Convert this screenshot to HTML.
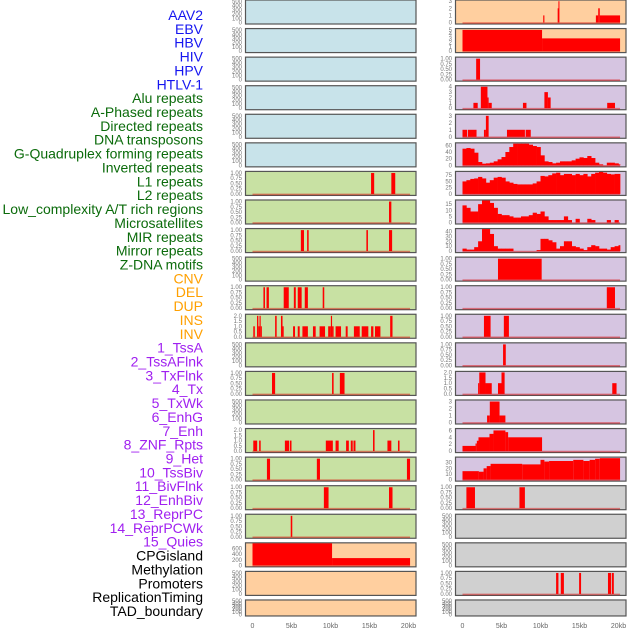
<!DOCTYPE html>
<html><head><meta charset="utf-8"><style>
html,body{margin:0;padding:0;background:#fff;}
svg{display:block;font-family:"Liberation Sans",sans-serif;}
</style></head><body>
<svg id="chart" width="630" height="630" viewBox="0 0 630 630"></svg>
<script>
const trackLabels = ["AAV2","EBV","HBV","HIV","HPV","HTLV-1","Alu repeats","A-Phased repeats","Directed repeats","DNA transposons","G-Quadruplex forming repeats","Inverted repeats","L1 repeats","L2 repeats","Low_complexity A/T rich regions","Microsatellites","MIR repeats","Mirror repeats","Z-DNA motifs","CNV","DEL","DUP","INS","INV","1_TssA","2_TssAFlnk","3_TxFlnk","4_Tx","5_TxWk","6_EnhG","7_Enh","8_ZNF_Rpts","9_Het","10_TssBiv","11_BivFlnk","12_EnhBiv","13_ReprPC","14_ReprPCWk","15_Quies","CPGisland","Methylation","Promoters","ReplicationTiming","TAD_boundary"];
const labelGroups = [6,13,5,15,5];
const groupColors = ["#1515f0","#0b6b0b","#ffa000","#a020f0","#000000"];
const xTickLabels = ["0","5kb","10kb","15kb","20kb"];
const xTickValues = [0,5,10,15,20];

// bar segments: [startKb, endKb, value]
const leftL1Bars = [[15.2,15.6,1],[17.8,18.3,1]];
const leftL2Bars = [[17.5,17.8,1]];
const leftLowCompBars = [[6.2,6.6,1],[7.0,7.2,1],[14.6,14.8,1],[17.5,17.9,1]];
const leftDelBars = [[1.4,1.6,1],[1.8,2.1,1],[4.0,4.65,1],[5.3,5.55,1],[5.8,6.3,1],[6.7,7.1,1],[9.0,9.2,1]];
const leftInsBars = [[0.1,0.3,1],[0.58,0.75,2],[0.75,0.9,1],[0.9,1.05,2],[1.05,1.2,1],[2.9,3.1,2],[3.65,3.85,2],[3.85,4.0,1],[5.2,5.45,1],[5.8,6.05,1],[6.4,7.1,1],[7.75,8.1,1],[8.6,9.3,1],[9.7,10.05,1],[10.05,10.2,2],[10.2,10.4,1],[10.65,11.35,1],[11.95,12.2,1],[13.0,13.75,1],[14.0,14.85,1],[15.2,15.5,1],[15.7,16.4,1],[17.65,17.95,2]];
const leftTssAFlnkBars = [[2.5,2.9,1],[10.2,10.4,1],[11.2,11.8,1]];
const leftTxWkBars = [[0.1,0.6,1],[0.85,1.05,1],[4.15,4.7,1],[4.8,5.0,1],[9.4,10.3,1],[10.65,11.05,1],[12.0,12.35,1],[12.6,12.85,1],[12.95,13.2,1],[15.45,15.65,2],[17.3,17.8,1],[18.65,18.85,1]];
const leftEnhBars = [[1.85,2.25,1],[8.25,8.65,1],[19.8,20.2,1]];
const leftZnfBars = [[9.15,9.75,1],[17.5,17.95,1]];
const leftHetBars = [[4.9,5.1,1]];
const leftCpgBars = [[0,10.2,790],[10.2,20.2,260]];

const rightInsBars = [[10.35,10.5,1],[12.2,12.3,2],[12.3,12.4,3],[17.1,17.4,1],[17.4,17.6,2],[17.6,20.2,1]];
const rightInvBars = [[0,10.2,5],[10.2,20.2,3]];
const rightTssABars = [[1.75,2.25,1]];
const rightTssAFlnkBars = [[1.4,1.95,1],[2.35,3.2,4],[3.2,3.35,2],[3.35,3.75,1],[7.75,8.2,1],[10.5,10.95,3],[10.95,11.3,2],[18.55,19.55,1]];
const rightTxFlnkBars = [[0,0.6,1],[0.7,1.8,1],[2.75,3.0,1],[3.0,3.35,3],[5.7,8.0,1],[8.1,8.75,1]];
const rightEnhGBars = [[4.55,10.15,1]];
const rightEnhBars = [[18.5,19.55,1]];
const rightZnfBars = [[2.75,3.6,1],[5.3,5.95,1]];
const rightHetBars = [[5.2,5.55,1]];
const rightTssBivBars = [[2.0,2.15,1],[2.15,2.95,2],[2.95,3.75,1],[4.55,5.0,1],[5.0,5.4,2],[19.2,19.75,1]];
const rightBivFlnkBars = [[3.15,3.5,1],[3.5,4.75,3],[4.75,5.5,1]];
const rightEnhBivBars = [[0,1.67,1.5],[1.67,1.84,2.2],[1.84,2.05,3],[2.05,3.46,4],[3.46,3.97,5],[3.97,5.5,6],[5.5,5.85,5.5],[5.85,10.2,4]];
const rightReprPCBars = [[0,2.1,15],[2.1,2.7,14],[2.7,3.1,20],[3.1,3.6,24],[3.6,7.65,28],[7.65,10.0,27],[10.0,10.5,35],[10.5,11.1,32],[11.1,14.2,33],[14.2,15.5,35],[15.5,16.3,33],[16.3,17.0,35],[17.0,17.6,37],[17.6,20.2,38]];
const rightQuiesBars = [[0.5,1.6,1],[7.3,8.0,1]];
const rightPromoterBars = [[12.0,12.3,1],[12.6,13.0,1],[14.95,15.2,1],[18.65,19.05,1],[19.15,19.4,1]];

// area values sampled every 0.5kb from 0 to 20kb
const gQuadValues = [50,52,50,38,10,5,6,8,12,18,25,40,55,65,65,65,65,62,58,55,30,12,10,6,8,12,12,12,15,20,24,22,28,22,8,3,0,8,8,6,3];
const l1Values = [50,55,60,62,68,62,45,55,65,68,65,50,45,40,38,38,38,38,42,50,72,70,75,82,85,75,80,80,75,80,75,80,70,80,85,88,85,80,78,80,80];
const lowCompValues = [14,12,9,9,15,18,18,16,12,7,6,6,5,4,4,5,5,6,8,7,9,5,2,2,2,2,5,2,0,3,0,0,3,2,0,0,0,2,0,2,0];
const mirValues = [5,3,3,8,20,45,45,35,10,5,5,5,5,0,0,0,0,0,0,2,25,25,22,18,5,10,20,20,10,8,5,2,8,12,10,5,5,3,8,10,12];

const T500 = ["0","100","200","300","400","500"];
const T1 = ["0.00","0.25","0.50","0.75","1.00"];
const C = {blue:"#c8e3ea",green:"#c8e1a3",orange:"#ffcf9f",purple:"#d6c5e1",gray:"#d0d0d0"};

const panels = [
 {c:0,r:0,bg:C.blue,tk:T500,tv:[0,100,200,300,400,500],dm:525},
 {c:0,r:1,bg:C.blue,tk:T500,tv:[0,100,200,300,400,500],dm:525},
 {c:0,r:2,bg:C.blue,tk:T500,tv:[0,100,200,300,400,500],dm:525},
 {c:0,r:3,bg:C.blue,tk:T500,tv:[0,100,200,300,400,500],dm:525},
 {c:0,r:4,bg:C.blue,tk:T500,tv:[0,100,200,300,400,500],dm:525},
 {c:0,r:5,bg:C.blue,tk:T500,tv:[0,100,200,300,400,500],dm:525},
 {c:0,r:6,bg:C.green,tk:T1,tv:[0,.25,.5,.75,1],dm:1.05,bars:leftL1Bars},
 {c:0,r:7,bg:C.green,tk:T1,tv:[0,.25,.5,.75,1],dm:1.05,bars:leftL2Bars},
 {c:0,r:8,bg:C.green,tk:T1,tv:[0,.25,.5,.75,1],dm:1.05,bars:leftLowCompBars},
 {c:0,r:9,bg:C.green,tk:T500,tv:[0,100,200,300,400,500],dm:525},
 {c:0,r:10,bg:C.green,tk:T1,tv:[0,.25,.5,.75,1],dm:1.05,bars:leftDelBars},
 {c:0,r:11,bg:C.green,tk:["0.0","0.5","1.0","1.5","2.0"],tv:[0,.5,1,1.5,2],dm:2.1,bars:leftInsBars},
 {c:0,r:12,bg:C.green,tk:T500,tv:[0,100,200,300,400,500],dm:525},
 {c:0,r:13,bg:C.green,tk:T1,tv:[0,.25,.5,.75,1],dm:1.05,bars:leftTssAFlnkBars},
 {c:0,r:14,bg:C.green,tk:T500,tv:[0,100,200,300,400,500],dm:525},
 {c:0,r:15,bg:C.green,tk:["0.0","0.5","1.0","1.5","2.0"],tv:[0,.5,1,1.5,2],dm:2.1,bars:leftTxWkBars},
 {c:0,r:16,bg:C.green,tk:T1,tv:[0,.25,.5,.75,1],dm:1.05,bars:leftEnhBars},
 {c:0,r:17,bg:C.green,tk:T1,tv:[0,.25,.5,.75,1],dm:1.05,bars:leftZnfBars},
 {c:0,r:18,bg:C.green,tk:T1,tv:[0,.25,.5,.75,1],dm:1.05,bars:leftHetBars},
 {c:0,r:19,bg:C.orange,tk:["0","200","400","600"],tv:[0,200,400,600],dm:790,bars:leftCpgBars},
 {c:0,r:20,bg:C.orange,tk:T500,tv:[0,100,200,300,400,500],dm:525},
 {c:0,r:21,bg:C.orange,tk:T500,tv:[0,100,200,300,400,500],dm:525},
 {c:1,r:0,bg:C.orange,tk:["0","1","2","3"],tv:[0,1,2,3],dm:3.1,bars:rightInsBars},
 {c:1,r:1,bg:C.orange,tk:["0","1","2","3","4","5"],tv:[0,1,2,3,4,5],dm:5.2,bars:rightInvBars},
 {c:1,r:2,bg:C.purple,tk:T1,tv:[0,.25,.5,.75,1],dm:1.05,bars:rightTssABars},
 {c:1,r:3,bg:C.purple,tk:["0","1","2","3","4"],tv:[0,1,2,3,4],dm:4.1,bars:rightTssAFlnkBars},
 {c:1,r:4,bg:C.purple,tk:["0","1","2","3"],tv:[0,1,2,3],dm:3.15,bars:rightTxFlnkBars},
 {c:1,r:5,bg:C.purple,tk:["0","20","40","60"],tv:[0,20,40,60],dm:66,area:gQuadValues},
 {c:1,r:6,bg:C.purple,tk:["0","25","50","75"],tv:[0,25,50,75],dm:88,area:l1Values},
 {c:1,r:7,bg:C.purple,tk:["0","5","10","15"],tv:[0,5,10,15],dm:18,area:lowCompValues},
 {c:1,r:8,bg:C.purple,tk:["0","10","20","30","40"],tv:[0,10,20,30,40],dm:45,area:mirValues},
 {c:1,r:9,bg:C.purple,tk:T1,tv:[0,.25,.5,.75,1],dm:1.05,bars:rightEnhGBars},
 {c:1,r:10,bg:C.purple,tk:T1,tv:[0,.25,.5,.75,1],dm:1.05,bars:rightEnhBars},
 {c:1,r:11,bg:C.purple,tk:T1,tv:[0,.25,.5,.75,1],dm:1.05,bars:rightZnfBars},
 {c:1,r:12,bg:C.purple,tk:T1,tv:[0,.25,.5,.75,1],dm:1.05,bars:rightHetBars},
 {c:1,r:13,bg:C.purple,tk:["0.0","0.5","1.0","1.5","2.0"],tv:[0,.5,1,1.5,2],dm:2.05,bars:rightTssBivBars},
 {c:1,r:14,bg:C.purple,tk:["0","1","2","3"],tv:[0,1,2,3],dm:3.15,bars:rightBivFlnkBars},
 {c:1,r:15,bg:C.purple,tk:["0","2","4","6"],tv:[0,2,4,6],dm:6.4,bars:rightEnhBivBars},
 {c:1,r:16,bg:C.purple,tk:["0","10","20","30"],tv:[0,10,20,30],dm:39,bars:rightReprPCBars},
 {c:1,r:17,bg:C.gray,tk:T1,tv:[0,.25,.5,.75,1],dm:1.05,bars:rightQuiesBars},
 {c:1,r:18,bg:C.gray,tk:T500,tv:[0,100,200,300,400,500],dm:525},
 {c:1,r:19,bg:C.gray,tk:T500,tv:[0,100,200,300,400,500],dm:525},
 {c:1,r:20,bg:C.gray,tk:T1,tv:[0,.25,.5,.75,1],dm:1.05,bars:rightPromoterBars},
 {c:1,r:21,bg:C.gray,tk:T500,tv:[0,100,200,300,400,500],dm:525}
];

const NS = "http://www.w3.org/2000/svg";
const svg = document.getElementById("chart");
function mk(tag, attrs, parent){
  const e = document.createElementNS(NS, tag);
  for (const k in attrs) e.setAttribute(k, attrs[k]);
  (parent||svg).appendChild(e);
  return e;
}
function xScale(col, kb){ return (col ? 462.5 : 252.5) + Math.min(kb, 20.2) * 7.8; }
function panelTop(r){ return r * 28.57 - 0.5; }
function panelH(r){ return r === 21 ? 17 : 25; }
function yScale(p, v){
  const top = panelTop(p.r), h = panelH(p.r);
  const zero = top + h - 2;
  return zero - (v / p.dm) * (h - 3);
}

// labels
let gi = 0, cnt = 0;
trackLabels.forEach((t, i) => {
  while (cnt >= labelGroups[gi]) { gi++; cnt = 0; }
  cnt++;
  const el = mk("text", {x:203, y:15 + i * 13.86 + 5, "text-anchor":"end", "font-size":"14", fill:groupColors[gi]});
  el.textContent = t;
  
  
});

panels.forEach((p, pi) => {
  const g = mk("g", {});
  
  
  const px = p.c ? 455 : 245, top = panelTop(p.r), h = panelH(p.r);
  const rect = mk("rect", {x:px+0.5, y:top+0.5, width:170.5, height:h-1, fill:p.bg, stroke:"#555", "stroke-width":"1.2"}, g);
  
  
  // y ticks
  p.tv.forEach((v, k) => {
    const y = yScale(p, v);
    const t = mk("text", {x:px-3, y:y+2, "text-anchor":"end", "font-size":"6", fill:"#777"}, g);
    t.textContent = p.tk[k];
    
    
  });
  const z = yScale(p, 0);
  if (p.bars) {
    p.bars.forEach(b => {
      const x1 = xScale(p.c, b[0]), x2 = xScale(p.c, b[1]), y = yScale(p, b[2]);
      const r = mk("rect", {x:x1, y:y, width:Math.max(x2-x1, 1), height:z-y, fill:"#ff0000"}, g);
      
      
    });
  }
  if (p.area) {
    p.area.forEach((v, k) => {
      const x1 = xScale(p.c, k*0.5), x2 = xScale(p.c, k*0.5+0.5), y = yScale(p, v);
      const r = mk("rect", {x:x1, y:y, width:x2-x1+0.3, height:z-y, fill:"#ff0000"}, g);
      
      
    });
  }
  if (p.bars || p.area) {
    const l = mk("line", {x1:xScale(p.c,0), x2:xScale(p.c,20.2), y1:z+0.5, y2:z+0.5, stroke:"rgba(220,0,0,0.45)", "stroke-width":"1.6"}, g);
    
    
  }
});

// x axis labels
[0,1].forEach(c => {
  xTickValues.forEach((v, k) => {
    const t = mk("text", {x:xScale(c, v), y:628, "text-anchor":"middle", "font-size":"7", fill:"#666"});
    t.textContent = xTickLabels[k];
    
    
  });
});
</script>
</body></html>
